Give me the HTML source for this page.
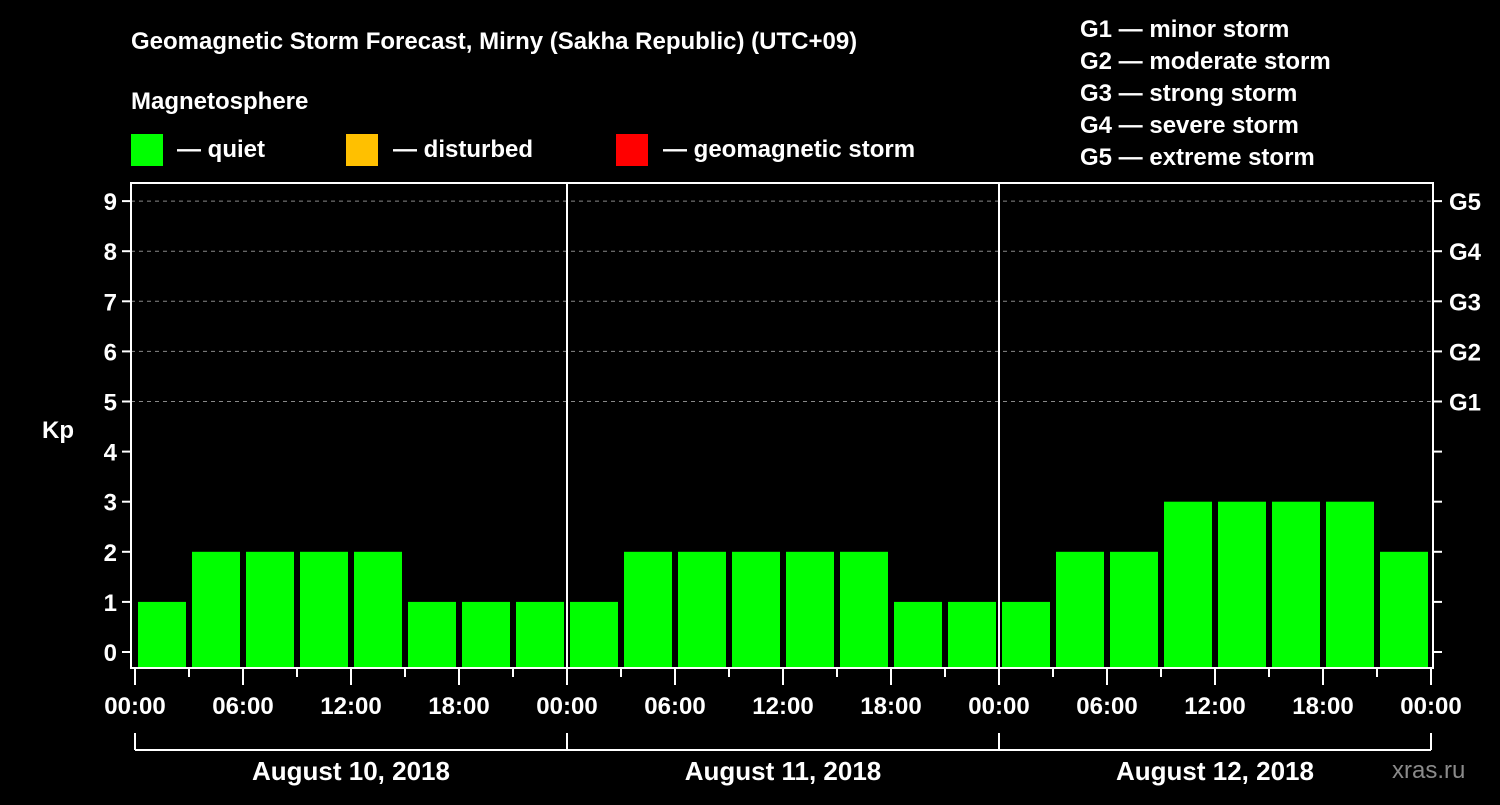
<!DOCTYPE html>
<html><head><meta charset="utf-8"><style>
body{margin:0;background:#000;width:1500px;height:800px;overflow:hidden}
svg text{font-family:"Liberation Sans",Arial,sans-serif;font-weight:bold;fill:#fff}
</style></head><body>
<svg width="1500" height="800">
<text x="131" y="49" font-size="24">Geomagnetic Storm Forecast, Mirny (Sakha Republic) (UTC+09)</text>
<text x="131" y="109" font-size="24">Magnetosphere</text>
<g>
<rect x="131" y="134" width="32" height="32" fill="#00ff00"/>
<text x="177" y="157" font-size="24">— quiet</text>
<rect x="346" y="134" width="32" height="32" fill="#ffc000"/>
<text x="393" y="157" font-size="24">— disturbed</text>
<rect x="616" y="134" width="32" height="32" fill="#ff0000"/>
<text x="663" y="157" font-size="24">— geomagnetic storm</text>
</g>
<g font-size="24">
<text x="1080" y="37">G1 — minor storm</text>
<text x="1080" y="69">G2 — moderate storm</text>
<text x="1080" y="101">G3 — strong storm</text>
<text x="1080" y="133">G4 — severe storm</text>
<text x="1080" y="165">G5 — extreme storm</text>
</g>
<text x="42" y="438" font-size="24">Kp</text>
<text x="1392" y="778" font-size="24" fill="#888" style="fill:#8a8a8a;font-weight:normal">xras.ru</text>
<g id="plot"></g>
</svg>
<script>
const kpValues=[1,2,2,2,2,1,1,1, 1,2,2,2,2,2,1,1, 1,2,2,3,3,3,3,2];
const dayLabels=["August 10, 2018","August 11, 2018","August 12, 2018"];
const hourLabels=["00:00","06:00","12:00","18:00"];
const gLabels=["G1","G2","G3","G4","G5"];
const NS="http://www.w3.org/2000/svg";
const L=131,R=1433,T=183,B=668,X0=135,DAYW=432;
const y=v=>652-v*50.1;
const x=h=>X0+h*DAYW/24;
const g=document.getElementById('plot');
function mk(t,a,txt){const e=document.createElementNS(NS,t);for(const k in a)e.setAttribute(k,a[k]);if(txt!==undefined)e.textContent=txt;g.appendChild(e);return e;}
for(let v=5;v<=9;v++){const e=mk('line',{x1:L,x2:R,y1:y(v),y2:y(v),stroke:'#888','stroke-dasharray':'4,4'});

}
kpValues.forEach((v,i)=>{const c=v>=5?'#ff0000':(v>=4?'#ffc000':'#00ff00');
const e=mk('rect',{x:x(i*3)+3,y:y(v),width:48,height:B-y(v),fill:c});

});
for(let d=1;d<dayLabels.length;d++){const e=mk('line',{x1:x(d*24),x2:x(d*24),y1:T,y2:B,stroke:'#fff','stroke-width':2});

}
const fr=mk('rect',{x:L,y:T,width:R-L,height:B-T,fill:'none',stroke:'#fff','stroke-width':2});


for(let v=0;v<=9;v++){mk('line',{x1:L-9,x2:L,y1:y(v),y2:y(v),stroke:'#fff','stroke-width':2});
mk('line',{x1:R,x2:R+9,y1:y(v),y2:y(v),stroke:'#fff','stroke-width':2});
const t=mk('text',{x:L-14,y:y(v)+9,'font-size':24,'text-anchor':'end'},String(v));

}
gLabels.forEach((s,i)=>{const t=mk('text',{x:1449,y:y(i+5)+9,'font-size':24},s);

});
const nd=dayLabels.length;
for(let h=0;h<=nd*24;h+=3){const major=h%6===0;
mk('line',{x1:x(h),x2:x(h),y1:B,y2:B+(major?17:9),stroke:'#fff','stroke-width':2});
if(major){const t=mk('text',{x:x(h),y:B+46,'font-size':24,'text-anchor':'middle'},hourLabels[(h%24)/6]);

}}
dayLabels.forEach((s,d)=>{mk('line',{x1:x(d*24),x2:x(d*24),y1:733,y2:750,stroke:'#fff','stroke-width':2});
mk('line',{x1:x(d*24),x2:x(d*24+24),y1:750,y2:750,stroke:'#fff','stroke-width':2});
const t=mk('text',{x:x(d*24+12),y:780,'font-size':26,'text-anchor':'middle'},s);

});
mk('line',{x1:x(nd*24),x2:x(nd*24),y1:733,y2:750,stroke:'#fff','stroke-width':2});
</script>
</body></html>
